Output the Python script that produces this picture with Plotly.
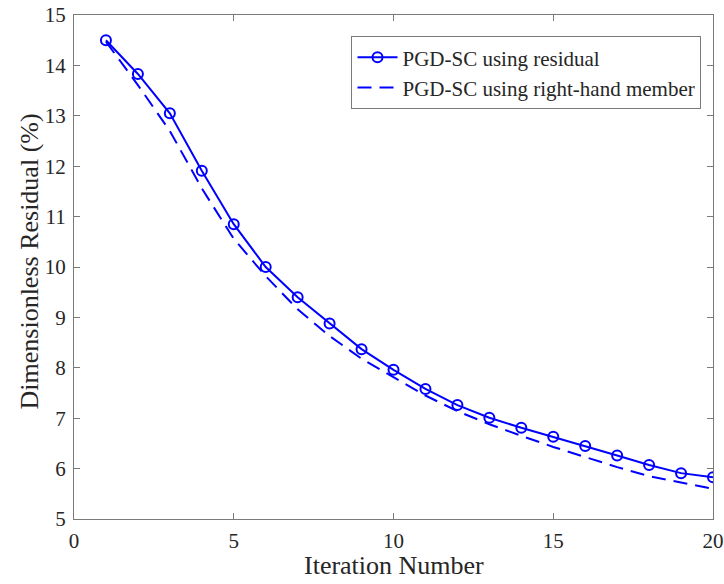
import plotly.graph_objects as go

iterations = list(range(1, 21))
residual_series = [14.50, 13.83, 13.05, 11.91, 10.85, 10.00, 9.40, 8.88, 8.37, 7.96,
                   7.58, 7.26, 7.01, 6.81, 6.63, 6.45, 6.26, 6.07, 5.91, 5.83]
rhs_series = [14.47, 13.61, 12.70, 11.56, 10.56, 9.82, 9.16, 8.63, 8.18, 7.81,
              7.45, 7.14, 6.88, 6.65, 6.43, 6.23, 6.03, 5.85, 5.72, 5.60]
name_residual = "PGD-SC using residual"
name_rhs = "PGD-SC using right-hand member"
x_title = "Iteration Number"
y_title = "Dimensionless Residual (%)"
x_ticks = [0, 5, 10, 15, 20]
y_ticks = list(range(5, 16))

font_family = "Liberation Serif, DejaVu Serif, serif"
blue = "#0000FF"
axis_col = "#7a7a7a"
text_col = "#262626"

fig = go.Figure()
fig.add_trace(go.Scatter(
    x=iterations, y=residual_series, name=name_residual, mode="lines+markers",
    line=dict(color=blue, width=2),
    marker=dict(symbol="circle-open", size=10, color=blue, line=dict(width=2, color=blue)),
))
fig.add_trace(go.Scatter(
    x=iterations, y=rhs_series, name=name_rhs, mode="lines",
    line=dict(color=blue, width=2, dash="14px,8px"),
))

axis_common = dict(
    showgrid=False, zeroline=False, showline=True, linecolor=axis_col, linewidth=1,
    mirror="ticks", ticks="inside", ticklen=6, tickcolor=axis_col,
    tickfont=dict(family=font_family, size=21, color=text_col),
    automargin=False, ticklabelstandoff=3,
)
fig.update_xaxes(range=[0, 20], tickvals=x_ticks, **axis_common)
fig.update_yaxes(range=[5, 15], tickvals=y_ticks, **axis_common)

fig.add_annotation(text=x_title, xref="paper", yref="paper", x=0.5, y=0,
                   xanchor="center", yanchor="middle", yshift=-46, showarrow=False,
                   font=dict(family=font_family, size=26, color=text_col))
fig.add_annotation(text=y_title, xref="paper", yref="paper", x=0, y=0.511,
                   xanchor="center", yanchor="middle", xshift=-45, textangle=-90,
                   showarrow=False, font=dict(family=font_family, size=26, color=text_col))

fig.update_layout(
    width=724, height=584,
    margin=dict(l=74, r=11, t=15, b=65),
    plot_bgcolor="white", paper_bgcolor="white",
    legend=dict(x=0.982, xanchor="right", y=0.958, yanchor="top",
                bgcolor="white", bordercolor=axis_col, borderwidth=1,
                font=dict(family=font_family, size=21, color=text_col),
                tracegroupgap=0, itemwidth=40),
    showlegend=True,
)

fig.write_html(
    "out.html",
    config={"displayModeBar": False},
    post_script="document.body.style.margin='0';document.body.style.overflow='hidden';",
)
